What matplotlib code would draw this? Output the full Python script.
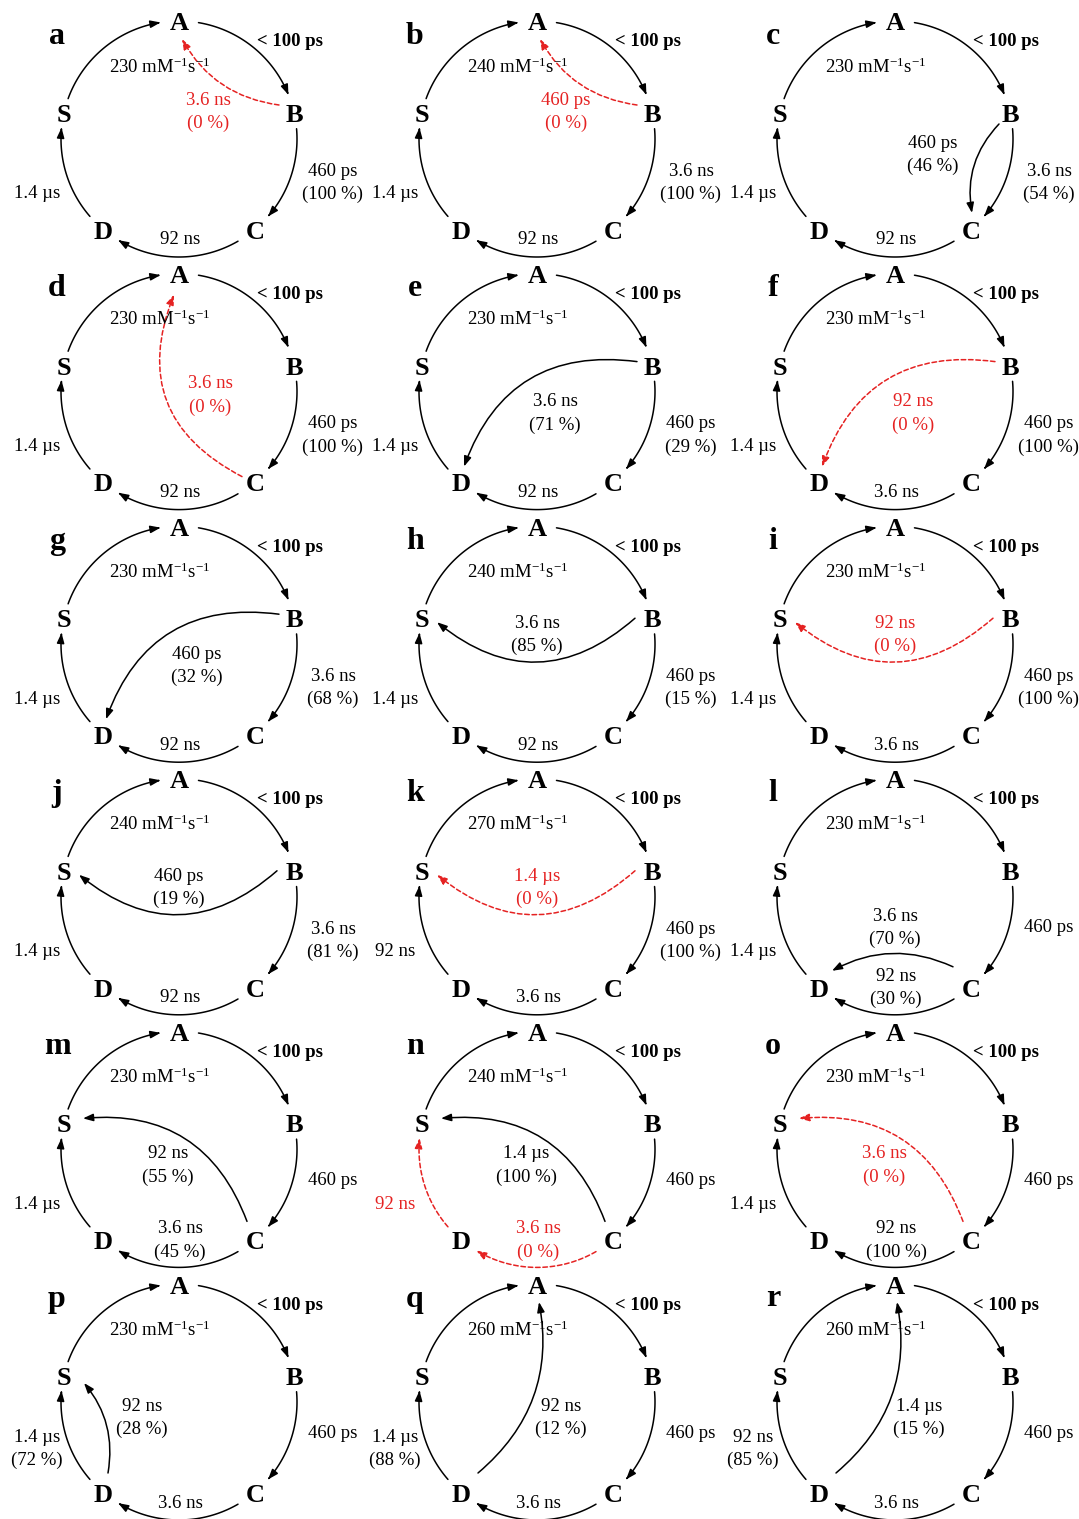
import numpy as np
import matplotlib.pyplot as plt
from matplotlib.patches import FancyArrowPatch
from matplotlib.path import Path

plt.rcParams['font.family'] = ['Liberation Serif', 'DejaVu Serif']
plt.rcParams['mathtext.fontset'] = 'custom'
plt.rcParams['mathtext.rm'] = 'Liberation Serif'
plt.rcParams['mathtext.it'] = 'Liberation Serif:italic'

# --- scheme content, one entry per panel ---
panels = list('abcdefghijklmnopqr')
conc = [230, 240, 230, 230, 230, 230, 230, 240, 230,
        240, 270, 230, 230, 240, 230, 230, 260, 260]
bc_text = ['460 ps\n(100 %)', '3.6 ns\n(100 %)', '3.6 ns\n(54 %)',
           '460 ps\n(100 %)', '460 ps\n(29 %)', '460 ps\n(100 %)',
           '3.6 ns\n(68 %)', '460 ps\n(15 %)', '460 ps\n(100 %)',
           '3.6 ns\n(81 %)', '460 ps\n(100 %)', '460 ps',
           '460 ps', '460 ps', '460 ps', '460 ps', '460 ps', '460 ps']
cd_text = ['92 ns', '92 ns', '92 ns', '92 ns', '92 ns', '3.6 ns',
           '92 ns', '92 ns', '3.6 ns', '92 ns', '3.6 ns', '92 ns\n(30 %)',
           '3.6 ns\n(45 %)', '3.6 ns\n(0 %)', '92 ns\n(100 %)',
           '3.6 ns', '3.6 ns', '3.6 ns']
ds_text = ['1.4 µs', '1.4 µs', '1.4 µs', '1.4 µs', '1.4 µs', '1.4 µs',
           '1.4 µs', '1.4 µs', '1.4 µs', '1.4 µs', '92 ns', '1.4 µs',
           '1.4 µs', '92 ns', '1.4 µs', '1.4 µs\n(72 %)',
           '1.4 µs\n(88 %)', '92 ns\n(85 %)']
# extra pathway: (from, to, label, zero flux)
shortcut = [('B', 'A', '3.6 ns\n(0 %)', True),
            ('B', 'A', '460 ps\n(0 %)', True),
            ('B', 'C', '460 ps\n(46 %)', False),
            ('C', 'A', '3.6 ns\n(0 %)', True),
            ('B', 'D', '3.6 ns\n(71 %)', False),
            ('B', 'D', '92 ns\n(0 %)', True),
            ('B', 'D', '460 ps\n(32 %)', False),
            ('B', 'S', '3.6 ns\n(85 %)', False),
            ('B', 'S', '92 ns\n(0 %)', True),
            ('B', 'S', '460 ps\n(19 %)', False),
            ('B', 'S', '1.4 µs\n(0 %)', True),
            ('C', 'D', '3.6 ns\n(70 %)', False),
            ('C', 'S', '92 ns\n(55 %)', False),
            ('C', 'S', '1.4 µs\n(100 %)', False),
            ('C', 'S', '3.6 ns\n(0 %)', True),
            ('D', 'S', '92 ns\n(28 %)', False),
            ('D', 'A', '92 ns\n(12 %)', False),
            ('D', 'A', '1.4 µs\n(15 %)', False)]
# main-cycle steps that carry no flux
dead_steps = {'n': ['CD', 'DS']}

# --- layout (pixels) ---
RED = '#e52222'
col_x = [0, 358, 716]
row_h = 252.6
cx0, cy0, R = 179, 139, 118
node_ang = {'A': 90, 'B': 13, 'C': -50, 'D': -130, 'S': 167}
gap_out = {'A': 9.5, 'B': 8, 'C': 10, 'D': 9, 'S': 7}
gap_in = {'A': 9, 'B': 9, 'C': 9, 'D': 9, 'S': 7.5}
cycle = [('S', 'A'), ('A', 'B'), ('B', 'C'), ('C', 'D'), ('D', 'S')]
chord_geom = {  # start, end, rad, label position
    ('B', 'A'): ((279, 105), (182, 39), -0.25, (208, 112)),
    ('B', 'C'): ((283, 124), (256, 213), 0.25, (217, 155)),
    ('C', 'A'): ((242, 224), (174, 42), -0.45, (210, 143)),
    ('B', 'D'): ((279, 109), (106, 214), 0.4, (197, 161)),
    ('B', 'S'): ((277, 113), (79, 117), -0.42, (179, 130)),
    ('C', 'D'): ((237, 209), (116, 213), 0.25, (179, 170)),
    ('C', 'S'): ((247, 211), (83, 108), 0.38, (168, 155)),
    ('D', 'S'): ((108, 210), (84, 120), 0.23, (142, 155)),
    ('D', 'A'): ((120, 210), (181, 39), 0.29, (203, 155)),
}
lab_pos = {'BC': (333, 183, 170), 'CD': (180, 240, 230), 'DS': (37, 186, 194)}

ASTYLE = '-|>,head_length=0.6,head_width=0.22'
FS = 13.5

fig = plt.figure(figsize=(10.79, 15.19), dpi=100)
ax = fig.add_axes([0, 0, 1, 1])
ax.set_xlim(0, 1079)
ax.set_ylim(1519, 0)
ax.axis('off')


def arrow_style(dead):
    if dead:
        return dict(color=RED, lw=1.1, linestyle=(0, (3, 1.8)))
    return dict(color='black', lw=1.1)


def text_at(x, y, s, color='black', **kw):
    ax.text(x, y, s, ha='center', va='center', fontsize=kw.pop('fontsize', FS),
            color=color, linespacing=1.45, **kw)


for k, p in enumerate(panels):
    ox = col_x[k % 3]
    oy = row_h * (k // 3)
    cx, cy = ox + cx0, oy + cy0
    dead = dead_steps.get(p, [])

    # cycle steps along the circle
    for a, b in cycle:
        t0 = node_ang[a] - gap_out[a]
        t1 = node_ang[b] + gap_in[b]
        if t1 > t0:
            t1 -= 360
        th = np.radians(np.linspace(t0, t1, 80))
        verts = np.column_stack([cx + R * np.cos(th), cy - R * np.sin(th)])
        ax.add_patch(FancyArrowPatch(path=Path(verts), arrowstyle=ASTYLE,
                                     mutation_scale=10,
                                     **arrow_style(a + b in dead)))

    # node letters
    for n, t in node_ang.items():
        tr = np.radians(t)
        ax.text(cx + R * np.cos(tr), cy - R * np.sin(tr) + 3, n, ha='center',
                va='center', fontsize=19, fontweight='bold')

    ax.text(ox + 57, oy + 36, p, ha='center', va='center', fontsize=23,
            fontweight='bold')
    ax.text(ox + 290, oy + 42, '< 100 ps', ha='center', va='center',
            fontsize=FS, fontweight='bold')
    text_at(ox + 160, oy + 67, r'%d mM$^{-1}$s$^{-1}$' % conc[k])

    for key, s in (('BC', bc_text[k]), ('CD', cd_text[k]), ('DS', ds_text[k])):
        x, y2, y1 = lab_pos[key]
        y = y2 if '\n' in s else y1
        if key == 'CD':
            y = y1 if '\n' in s else y2
        text_at(ox + x, oy + y, s, color=RED if key in dead else 'black')

    # extra pathway
    a, b, s, zero = shortcut[k]
    (sx, sy), (ex, ey), rad, (lx, ly) = chord_geom[(a, b)]
    ax.add_patch(FancyArrowPatch((ox + sx, oy + sy), (ox + ex, oy + ey),
                                 connectionstyle='arc3,rad=%g' % rad,
                                 arrowstyle=ASTYLE, mutation_scale=10,
                                 shrinkA=0, shrinkB=0, **arrow_style(zero)))
    text_at(ox + lx, oy + ly, s, color=RED if zero else 'black')

fig.savefig('out.png', dpi=100)
